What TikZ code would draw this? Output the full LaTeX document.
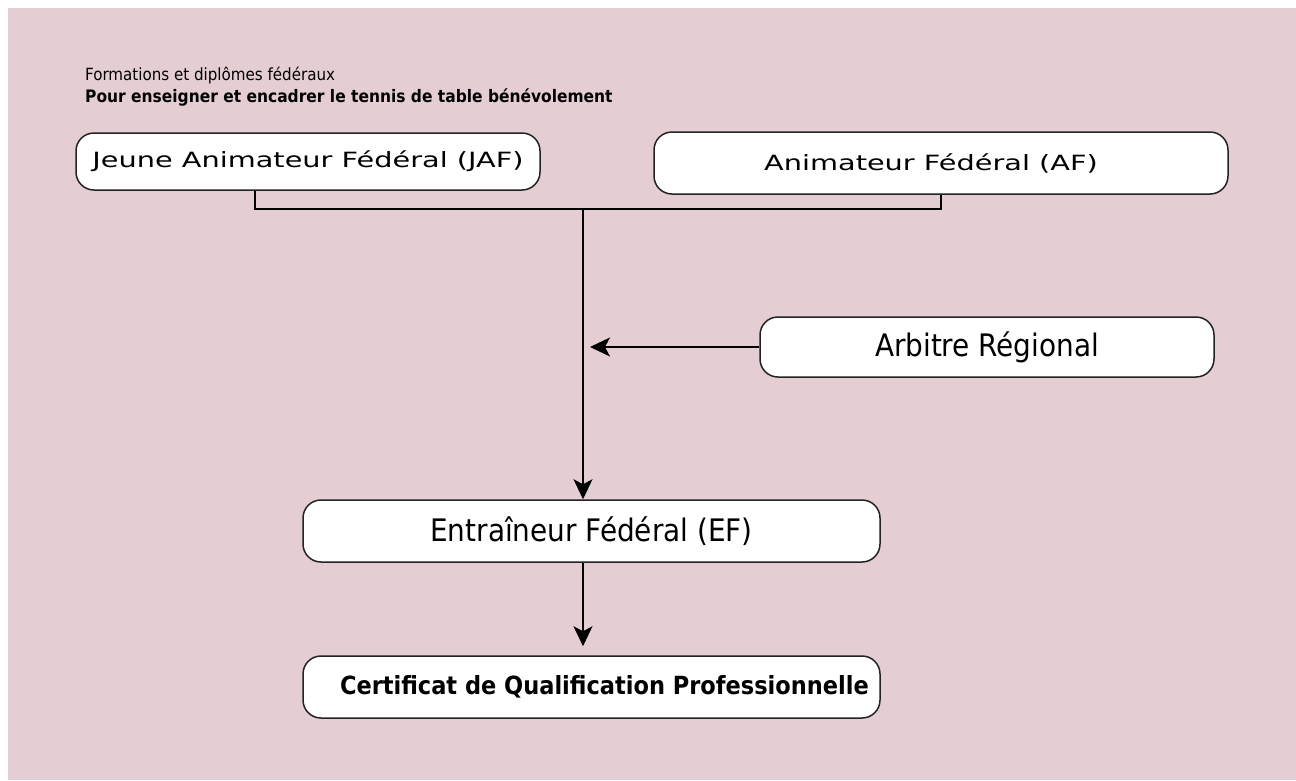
\documentclass[tikz,border=0pt]{standalone}
\usepackage{fontspec}
\setmainfont{DejaVu Sans}
\IfFontExistsTF{DejaVu Sans Condensed}
  {\newfontfamily\condfont{DejaVu Sans Condensed}}
  {\newfontfamily\condfont{DejaVu Sans}[FakeStretch=0.9]}
\newfontfamily\widefont{DejaVu Sans}[FakeStretch=1.37]
\usetikzlibrary{arrows.meta}
\definecolor{fondrose}{RGB}{229,206,211}
\definecolor{trait}{RGB}{35,35,35}
\tikzset{
  box/.style = {draw=trait, line width=1.5pt, fill=white, rounded corners=18pt, inner sep=0pt},
  link/.style = {draw=black, line width=1.4pt},
  arrow/.style = {link, -{Stealth[length=20pt, width=19pt, inset=5pt]}}
}

\begin{document}
\begin{tikzpicture}[x=1pt, y=-1pt]
\useasboundingbox (0,0) rectangle (1296,780);
\fill[white] (0,0) rectangle (1296,780);
\fill[fondrose] (8,8) rectangle (1296,780);
\node[anchor=base west, inner sep=0pt] (title) at (85,80) {\condfont\fontsize{16.8}{19}\selectfont Formations et diplômes fédéraux};
\node[anchor=base west, inner sep=0pt] (subtitle) at (85,102) {\condfont\bfseries\fontsize{17.2}{20}\selectfont Pour enseigner et encadrer le tennis de table bénévolement};
\node[box, minimum width=464, minimum height=57] (jaf) at (308,161.5) {\widefont\fontsize{21}{24}\selectfont Jeune Animateur Fédéral (JAF)};
\node[box, minimum width=574, minimum height=62] (af) at (941,163) {\widefont\fontsize{21}{24}\selectfont Animateur Fédéral (AF)\hspace*{20pt}};
\node[box, minimum width=454, minimum height=60] (arb) at (987,347) {\condfont\fontsize{31}{35}\selectfont Arbitre Régional};
\node[box, minimum width=577, minimum height=62] (ef) at (591.5,531) {\condfont\fontsize{31}{35}\selectfont Entraîneur Fédéral (EF)};
\node[box, minimum width=577, minimum height=62] (cqp) at (591.5,687) {\hbox to 577pt{\hskip37pt\condfont\bfseries\fontsize{25}{28}\selectfont Certificat de Qualification Professionnelle\hss}};
\coordinate (join) at (583,209);
\draw[link] ([xshift=-53]jaf.south) |- (join) -| (af.south);
\draw[arrow] (join) -- (join |- ef.north);
\draw[arrow] (arb.west) -- ([xshift=7]join |- arb.west);
\draw[arrow] (join |- ef.south) -- ([yshift=9]join |- cqp.north);
\end{tikzpicture}
\end{document}
